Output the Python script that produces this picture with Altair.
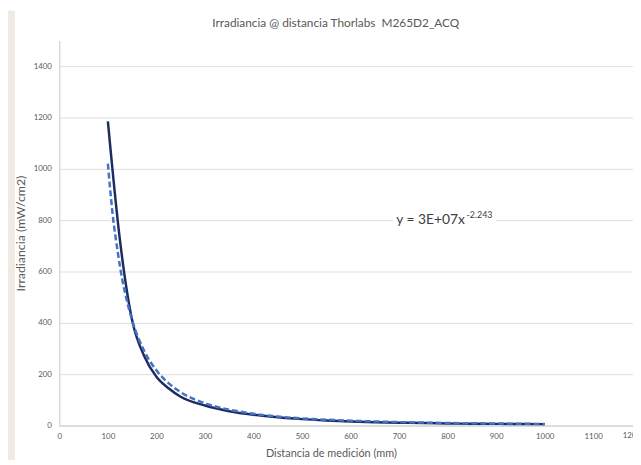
import altair as alt
import pandas as pd

# Measured irradiance (solid dark line)
dist = [100, 125, 150, 175, 200, 225, 250, 300, 350, 400, 450, 500, 550, 600, 650, 700, 750, 800, 850, 900, 950, 1000]
irr = [1185, 720, 410, 270, 190, 145, 112, 78, 56, 42, 32, 25, 20, 16, 13, 11, 10, 8, 7, 6.5, 6, 5.5]

# Power trendline (dashed blue)
trend_x = [100, 110, 120, 130, 140, 150, 175, 200, 225, 250, 300, 350, 400, 450, 500, 600, 700, 800, 900, 1000]
trend_y = [1020, 820, 680, 565, 480, 410, 290, 215, 165, 130, 87, 62, 46, 35, 28, 19, 13.5, 10, 8, 6]

x_ticks = [0, 100, 200, 300, 400, 500, 600, 700, 800, 900, 1000, 1100]
x_cut_tick = [1200]
y_ticks = [0, 200, 400, 600, 800, 1000, 1200, 1400]

title_text = ["Irradiancia @ distancia Thorlabs \u00a0M265D2_ACQ"]
eq_main = ["y = 3E+07x"]
eq_sup = ["-2.243"]

FONT = "Lato"
GRAY = "#595959"

W, H = 581, 390
xs = alt.Scale(domain=[0, 1182], nice=False, zero=False)
ys = alt.Scale(domain=[0, 1500], nice=False)

meas = pd.DataFrame({"x": dist, "y": irr})
trend = pd.DataFrame({"x": trend_x, "y": trend_y})

x_enc = alt.X("x:Q", scale=xs, title="Distancia de medición (mm)",
              axis=alt.Axis(values=x_ticks, format="d", grid=False, ticks=False,
                            domainColor="#c8c8c8", labelColor=GRAY, labelFont=FONT,
                            labelFontSize=8, labelPadding=7, labelFlush=False,
                            titleFont=FONT, titleFontSize=11, titleColor=GRAY,
                            titleFontWeight="normal", titleX=275, titleY=31,
                            titleBaseline="alphabetic", titleAlign="center"))
y_enc = alt.Y("y:Q", scale=ys, title="Irradiancia (mW/cm2)",
              axis=alt.Axis(values=y_ticks, format="d", grid=True, gridColor="#dedede",
                            ticks=False, domainColor="#c8c8c8", labelColor=GRAY,
                            labelFont=FONT, labelFontSize=8, labelPadding=8,
                            titleFont=FONT, titleFontSize=12.5, titleColor=GRAY,
                            titleFontWeight="normal", titleX=-39, titleY=195,
                            titleBaseline="middle", titleAlign="center", titleAngle=-90))

strip = alt.Chart(pd.DataFrame({"k": [0]})).mark_rect(color="#efebe3").encode(
    x=alt.value(-52), x2=alt.value(-45), y=alt.value(-30), y2=alt.value(H + 40))

box = alt.Chart(pd.DataFrame({"x": [688], "x2": [900], "y": [775], "y2": [835]})).mark_rect(
    color="white").encode(x=alt.X("x:Q", scale=xs), x2="x2", y=alt.Y("y:Q", scale=ys), y2="y2")

solid = alt.Chart(meas).mark_line(color="#1c2c5e", strokeWidth=2.5, interpolate="monotone").encode(
    x=x_enc, y=y_enc)

dashed = alt.Chart(trend).mark_line(color="#4472c4", strokeWidth=2.5, strokeDash=[6, 3],
                                    interpolate="monotone").encode(
    x=alt.X("x:Q", scale=xs), y=alt.Y("y:Q", scale=ys))

eq1 = alt.Chart(pd.DataFrame({"x": [694], "y": [785], "t": eq_main})).mark_text(
    font=FONT, fontSize=14, color="#404040", align="left", baseline="alphabetic").encode(
    x=alt.X("x:Q", scale=xs), y=alt.Y("y:Q", scale=ys), text="t:N")
eq2 = alt.Chart(pd.DataFrame({"x": [839], "y": [808], "t": eq_sup})).mark_text(
    font=FONT, fontSize=9, color="#404040", align="left", baseline="alphabetic").encode(
    x=alt.X("x:Q", scale=xs), y=alt.Y("y:Q", scale=ys), text="t:N")

cut_lbl = alt.Chart(pd.DataFrame({"x": x_cut_tick, "t": [str(v) for v in x_cut_tick]})).mark_text(
    font=FONT, fontSize=8, color=GRAY, align="center", baseline="top", dx=-10).encode(
    x=alt.X("x:Q", scale=xs), y=alt.value(H + 7), text="t:N")

title = alt.Chart(pd.DataFrame({"t": title_text})).mark_text(
    font=FONT, fontSize=12, color=GRAY, align="center", baseline="middle").encode(
    x=alt.value(280), y=alt.value(-18), text="t:N")

chart = alt.layer(strip, box, solid, dashed, eq1, eq2, cut_lbl, title).properties(
    width=W, height=H,
    autosize=alt.AutoSizeParams(type="none"),
    padding={"left": 52, "top": 30, "right": 0, "bottom": 32},
    background="white",
).configure_view(strokeWidth=0)

chart.save("out.html", embed_options={"renderer": "svg", "actions": False})
